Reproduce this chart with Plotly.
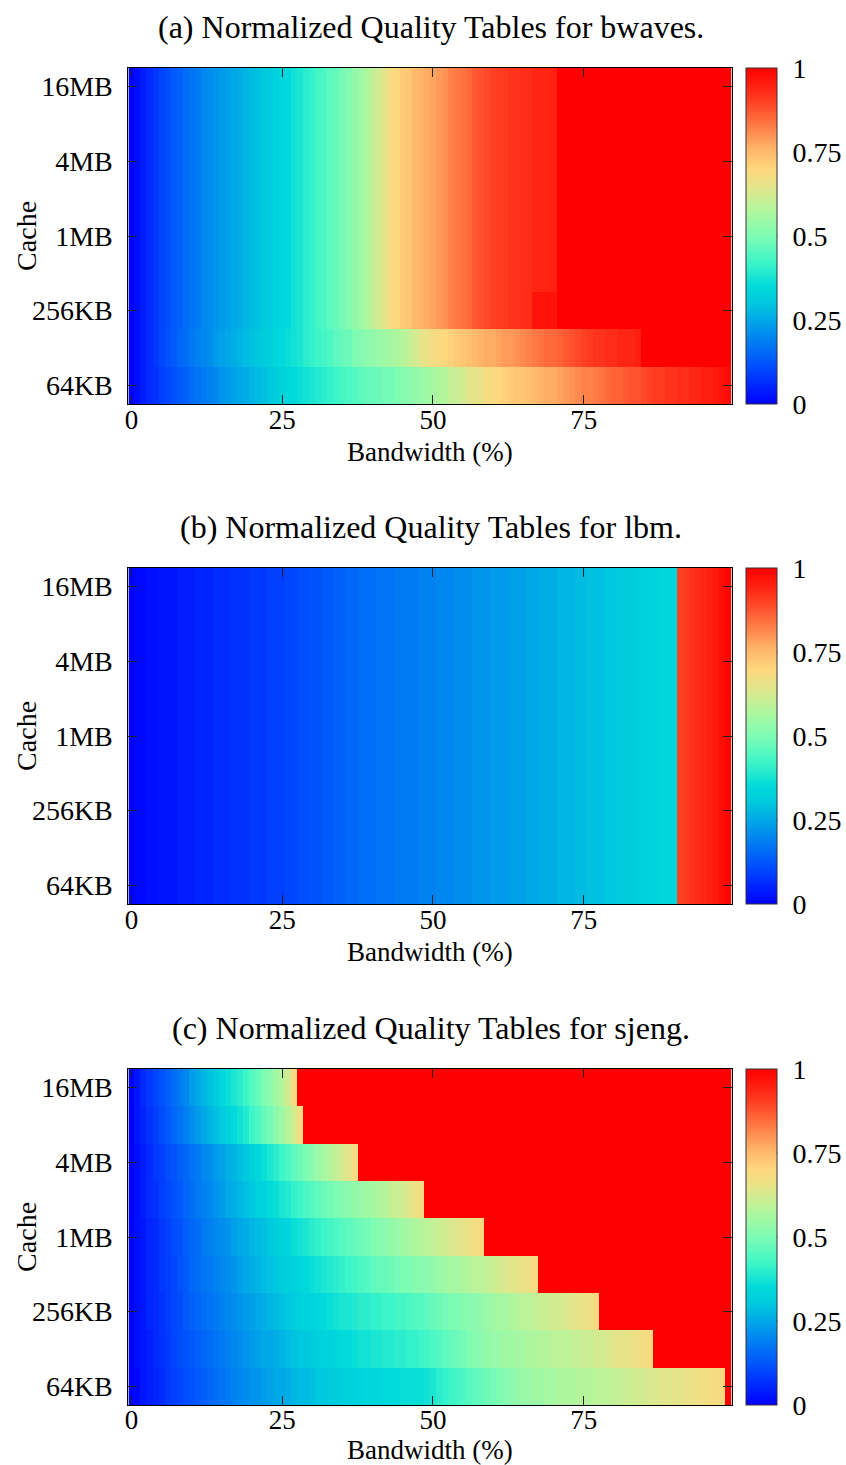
import plotly.graph_objects as go

# ---------------- data ----------------
bandwidth = list(range(100))  # Bandwidth (%) columns 0..99
cache_rows = ['64KB', '128KB', '256KB', '512KB', '1MB', '2MB', '4MB', '8MB', '16MB']
cache_ticks = ['64KB', '256KB', '1MB', '4MB', '16MB']
cbar_vals = [0, 0.25, 0.5, 0.75, 1]
cbar_text = ['0', '0.25', '0.5', '0.75', '1']
titles = ['(a) Normalized Quality Tables for bwaves.',
          '(b) Normalized Quality Tables for lbm.',
          '(c) Normalized Quality Tables for sjeng.']

# bwaves: rows 512KB..16MB share one profile
bwaves_upper = [0.00, 0.02, 0.04, 0.06, 0.08, 0.10, 0.11, 0.13, 0.14, 0.16,
                0.17, 0.18, 0.20, 0.21, 0.22, 0.23, 0.24, 0.25, 0.26, 0.27,
                0.28, 0.29, 0.30, 0.31, 0.33, 0.34, 0.35, 0.37, 0.38, 0.40,
                0.41, 0.43, 0.44, 0.46, 0.47, 0.49, 0.51, 0.53, 0.55, 0.57,
                0.60, 0.62, 0.65, 0.68, 0.70, 0.72, 0.73, 0.75, 0.76, 0.77,
                0.78, 0.79, 0.80, 0.82, 0.83, 0.84, 0.85, 0.87, 0.88, 0.89,
                0.90, 0.91, 0.91, 0.92, 0.92, 0.93, 0.93, 0.94, 0.94, 0.94,
                0.95] + [1.0] * 29
bwaves_256k = [0.00, 0.02, 0.04, 0.06, 0.08, 0.10, 0.11, 0.13, 0.14, 0.16,
               0.17, 0.18, 0.20, 0.21, 0.22, 0.23, 0.24, 0.25, 0.26, 0.27,
               0.28, 0.29, 0.30, 0.31, 0.33, 0.34, 0.35, 0.37, 0.38, 0.40,
               0.41, 0.43, 0.44, 0.46, 0.47, 0.49, 0.51, 0.53, 0.55, 0.57,
               0.60, 0.62, 0.65, 0.68, 0.70, 0.72, 0.73, 0.75, 0.76, 0.77,
               0.78, 0.79, 0.80, 0.82, 0.83, 0.84, 0.85, 0.87, 0.88, 0.89,
               0.90, 0.91, 0.91, 0.92, 0.92, 0.93, 0.93, 0.97, 0.97, 0.97,
               0.97] + [1.0] * 29
bwaves_128k = [0.00, 0.02, 0.04, 0.06, 0.08, 0.10, 0.12, 0.13, 0.15, 0.16,
               0.18, 0.19, 0.20, 0.21, 0.23, 0.24, 0.25, 0.26, 0.27, 0.28,
               0.29, 0.30, 0.31, 0.32, 0.34, 0.35, 0.36, 0.37, 0.38, 0.40,
               0.41, 0.42, 0.43, 0.44, 0.46, 0.47, 0.48, 0.50, 0.51, 0.52,
               0.53, 0.54, 0.55, 0.56, 0.57, 0.58, 0.60, 0.62, 0.64, 0.66,
               0.68, 0.69, 0.70, 0.71, 0.72, 0.73, 0.74, 0.75, 0.76, 0.77,
               0.77, 0.78, 0.79, 0.79, 0.80, 0.81, 0.82, 0.83, 0.84, 0.85,
               0.85, 0.86, 0.87, 0.88, 0.89, 0.90, 0.91, 0.92, 0.92, 0.93,
               0.93, 0.94, 0.94, 0.94, 0.95] + [1.0] * 15
bwaves_64k = [0.00, 0.02, 0.04, 0.06, 0.07, 0.09, 0.10, 0.12, 0.13, 0.14,
              0.16, 0.17, 0.18, 0.19, 0.20, 0.22, 0.23, 0.24, 0.25, 0.26,
              0.27, 0.28, 0.29, 0.30, 0.31, 0.33, 0.34, 0.35, 0.36, 0.37,
              0.38, 0.39, 0.40, 0.41, 0.42, 0.43, 0.44, 0.45, 0.46, 0.47,
              0.47, 0.48, 0.49, 0.49, 0.50, 0.51, 0.52, 0.53, 0.54, 0.55,
              0.56, 0.57, 0.58, 0.60, 0.61, 0.62, 0.64, 0.65, 0.66, 0.68,
              0.69, 0.70, 0.71, 0.72, 0.73, 0.73, 0.74, 0.75, 0.76, 0.77,
              0.77, 0.78, 0.79, 0.80, 0.81, 0.82, 0.82, 0.83, 0.84, 0.85,
              0.86, 0.86, 0.87, 0.88, 0.88, 0.89, 0.90, 0.91, 0.91, 0.92,
              0.92, 0.93, 0.93, 0.94, 0.94, 0.95, 0.95, 0.96, 0.97, 0.98]

# lbm: every cache size has the same profile
lbm_row = [0.00, 0.01, 0.01, 0.02, 0.02, 0.03, 0.03, 0.03, 0.04, 0.04,
           0.04, 0.05, 0.05, 0.05, 0.06, 0.06, 0.06, 0.07, 0.07, 0.07,
           0.08, 0.08, 0.08, 0.09, 0.09, 0.09, 0.10, 0.10, 0.11, 0.11,
           0.12, 0.12, 0.13, 0.13, 0.14, 0.14, 0.15, 0.15, 0.16, 0.16,
           0.16, 0.17, 0.17, 0.17, 0.18, 0.18, 0.18, 0.18, 0.19, 0.19,
           0.19, 0.20, 0.20, 0.20, 0.21, 0.21, 0.21, 0.22, 0.22, 0.22,
           0.23, 0.23, 0.23, 0.24, 0.24, 0.24, 0.25, 0.25, 0.26, 0.26,
           0.26, 0.27, 0.27, 0.27, 0.28, 0.28, 0.29, 0.29, 0.29, 0.30,
           0.30, 0.31, 0.31, 0.31, 0.32, 0.32, 0.33, 0.33, 0.34, 0.34,
           0.34, 0.90, 0.91, 0.92, 0.93, 0.94, 0.95, 0.96, 0.98, 0.99]

# sjeng: one profile per cache size (gradient part, then saturated)
sjeng_16m = [0.00, 0.03, 0.06, 0.08, 0.10, 0.12, 0.14, 0.16, 0.18, 0.20,
             0.23, 0.25, 0.27, 0.29, 0.31, 0.34, 0.36, 0.38, 0.40, 0.42,
             0.45, 0.47, 0.50, 0.52, 0.55, 0.58, 0.62, 0.68] + [1.0] * 72
sjeng_8m = [0.00, 0.03, 0.05, 0.07, 0.09, 0.11, 0.13, 0.15, 0.17, 0.19,
            0.21, 0.23, 0.25, 0.27, 0.29, 0.31, 0.33, 0.35, 0.37, 0.39,
            0.42, 0.44, 0.47, 0.49, 0.52, 0.55, 0.58, 0.62, 0.68] + [1.0] * 71
sjeng_4m = [0.00, 0.02, 0.04, 0.06, 0.08, 0.09, 0.11, 0.12, 0.14, 0.15,
            0.17, 0.18, 0.20, 0.21, 0.23, 0.24, 0.26, 0.27, 0.29, 0.30,
            0.32, 0.34, 0.36, 0.38, 0.40, 0.42, 0.44, 0.46, 0.48, 0.50,
            0.52, 0.54, 0.56, 0.58, 0.60, 0.62, 0.65, 0.68] + [1.0] * 62
sjeng_2m = [0.00, 0.02, 0.04, 0.06, 0.07, 0.09, 0.10, 0.12, 0.13, 0.15,
            0.16, 0.18, 0.19, 0.20, 0.22, 0.23, 0.25, 0.26, 0.27, 0.29,
            0.30, 0.32, 0.33, 0.35, 0.36, 0.38, 0.39, 0.41, 0.42, 0.44,
            0.45, 0.46, 0.48, 0.49, 0.50, 0.51, 0.52, 0.53, 0.54, 0.55,
            0.56, 0.57, 0.58, 0.60, 0.61, 0.62, 0.64, 0.66, 0.68] + [1.0] * 51
sjeng_1m = [0.00, 0.02, 0.03, 0.05, 0.06, 0.08, 0.09, 0.11, 0.12, 0.14,
            0.15, 0.16, 0.18, 0.19, 0.20, 0.21, 0.22, 0.24, 0.25, 0.26,
            0.27, 0.28, 0.29, 0.30, 0.32, 0.33, 0.34, 0.36, 0.37, 0.38,
            0.40, 0.41, 0.42, 0.43, 0.44, 0.45, 0.46, 0.47, 0.48, 0.49,
            0.50, 0.51, 0.52, 0.53, 0.54, 0.55, 0.56, 0.57, 0.58, 0.59,
            0.60, 0.61, 0.62, 0.63, 0.64, 0.65, 0.66, 0.67, 0.69] + [1.0] * 41
sjeng_512k = [0.00, 0.02, 0.03, 0.05, 0.06, 0.08, 0.09, 0.10, 0.12, 0.13,
              0.15, 0.16, 0.17, 0.18, 0.19, 0.20, 0.21, 0.22, 0.24, 0.25,
              0.26, 0.27, 0.28, 0.29, 0.30, 0.31, 0.32, 0.33, 0.34, 0.35,
              0.36, 0.37, 0.38, 0.39, 0.40, 0.41, 0.42, 0.43, 0.44, 0.45,
              0.46, 0.47, 0.47, 0.48, 0.49, 0.50, 0.50, 0.51, 0.52, 0.52,
              0.53, 0.54, 0.55, 0.56, 0.56, 0.57, 0.58, 0.59, 0.59, 0.60,
              0.61, 0.62, 0.63, 0.64, 0.65, 0.66, 0.67, 0.69] + [1.0] * 32
sjeng_256k = [0.00, 0.02, 0.03, 0.05, 0.06, 0.07, 0.09, 0.10, 0.11, 0.13,
              0.14, 0.15, 0.16, 0.17, 0.18, 0.19, 0.20, 0.21, 0.22, 0.23,
              0.24, 0.25, 0.26, 0.27, 0.28, 0.29, 0.30, 0.31, 0.32, 0.33,
              0.33, 0.34, 0.35, 0.36, 0.37, 0.38, 0.38, 0.39, 0.40, 0.40,
              0.41, 0.41, 0.42, 0.42, 0.43, 0.43, 0.44, 0.45, 0.45, 0.46,
              0.47, 0.48, 0.49, 0.50, 0.50, 0.51, 0.52, 0.52, 0.53, 0.54,
              0.55, 0.56, 0.56, 0.57, 0.58, 0.59, 0.59, 0.60, 0.61, 0.61,
              0.62, 0.62, 0.63, 0.64, 0.65, 0.66, 0.67, 0.69] + [1.0] * 22
sjeng_128k = [0.00, 0.02, 0.03, 0.04, 0.06, 0.07, 0.08, 0.10, 0.11, 0.12,
              0.13, 0.14, 0.15, 0.16, 0.17, 0.18, 0.19, 0.20, 0.21, 0.22,
              0.23, 0.24, 0.25, 0.25, 0.26, 0.27, 0.28, 0.29, 0.30, 0.30,
              0.31, 0.32, 0.33, 0.33, 0.34, 0.35, 0.35, 0.36, 0.37, 0.37,
              0.38, 0.38, 0.39, 0.39, 0.40, 0.40, 0.41, 0.41, 0.42, 0.43,
              0.44, 0.45, 0.46, 0.47, 0.48, 0.49, 0.50, 0.51, 0.52, 0.53,
              0.54, 0.54, 0.55, 0.55, 0.56, 0.56, 0.57, 0.57, 0.58, 0.58,
              0.59, 0.59, 0.59, 0.60, 0.60, 0.61, 0.61, 0.62, 0.62, 0.63,
              0.64, 0.65, 0.65, 0.66, 0.67, 0.68, 0.69] + [1.0] * 13
sjeng_64k = [0.00, 0.01, 0.03, 0.04, 0.05, 0.06, 0.08, 0.09, 0.10, 0.11,
             0.12, 0.13, 0.14, 0.15, 0.16, 0.17, 0.18, 0.19, 0.20, 0.21,
             0.22, 0.22, 0.23, 0.24, 0.25, 0.25, 0.26, 0.27, 0.28, 0.28,
             0.29, 0.30, 0.30, 0.31, 0.31, 0.32, 0.32, 0.33, 0.33, 0.34,
             0.34, 0.34, 0.35, 0.35, 0.35, 0.36, 0.36, 0.36, 0.36, 0.37,
             0.38, 0.40, 0.41, 0.42, 0.43, 0.44, 0.45, 0.46, 0.47, 0.48,
             0.49, 0.50, 0.51, 0.52, 0.53, 0.54, 0.54, 0.55, 0.55, 0.56,
             0.56, 0.57, 0.57, 0.57, 0.58, 0.58, 0.58, 0.59, 0.59, 0.59,
             0.60, 0.60, 0.61, 0.61, 0.62, 0.62, 0.63, 0.63, 0.64, 0.64,
             0.65, 0.65, 0.66, 0.66, 0.67, 0.67, 0.68, 0.68, 0.69, 1.0]

# rows ordered bottom (64KB) to top (16MB)
z_bwaves = [bwaves_64k, bwaves_128k, bwaves_256k] + [bwaves_upper] * 6
z_lbm = [lbm_row] * 9
z_sjeng = [sjeng_64k, sjeng_128k, sjeng_256k, sjeng_512k, sjeng_1m,
           sjeng_2m, sjeng_4m, sjeng_8m, sjeng_16m]
panels = [z_bwaves, z_lbm, z_sjeng]

# ---------------- style ----------------
W, H = 846, 1465
FONT = 'Liberation Serif'
FS = 28      # y tick labels, colorbar labels, Cache title
XFS = 27     # x tick labels and Bandwidth title
TFS = 32     # panel titles
colorscale = [
    [0.00, 'rgb(0,0,255)'],
    [0.10, 'rgb(0,70,255)'],
    [0.20, 'rgb(0,135,240)'],
    [0.30, 'rgb(0,200,222)'],
    [0.35, 'rgb(0,218,218)'],
    [0.42, 'rgb(60,245,200)'],
    [0.50, 'rgb(125,252,180)'],
    [0.58, 'rgb(180,245,155)'],
    [0.64, 'rgb(225,230,140)'],
    [0.70, 'rgb(255,215,125)'],
    [0.76, 'rgb(255,180,105)'],
    [0.82, 'rgb(255,130,75)'],
    [0.90, 'rgb(255,65,35)'],
    [0.95, 'rgb(255,30,15)'],
    [1.00, 'rgb(255,0,0)'],
]

plot_left, plot_right = 125, 731
cb_left, cb_thick = 746, 31
plot_tops = [68, 568, 1069]
plot_h = 336
title_offset = 41             # title centre above plot top (px)
xtitle_offsets = [48, 48, 44.5]  # x-axis title centre below plot bottom (px)

def py(p):
    return 1 - p / H

fig = go.Figure()
shapes = []
for i, z in enumerate(panels):
    top = plot_tops[i]
    bot = top + plot_h
    y0, y1 = py(bot), py(top)
    n = '' if i == 0 else str(i + 1)
    fig.add_trace(go.Heatmap(
        z=z, x=bandwidth, y=cache_rows,
        xaxis='x' + n, yaxis='y' + n,
        colorscale=colorscale, zmin=0, zmax=1, zsmooth=False,
        colorbar=dict(
            x=cb_left / W, xanchor='left', xpad=0,
            y=y0, yanchor='bottom', ypad=0,
            len=plot_h / H, lenmode='fraction',
            thickness=cb_thick, thicknessmode='pixels',
            outlinewidth=1, outlinecolor='#333',
            tickmode='array', tickvals=cbar_vals, ticktext=cbar_text,
            ticks='outside', ticklen=10, tickcolor='rgba(0,0,0,0)',
            tickfont=dict(family=FONT, size=FS, color='black'),
        ),
        hoverinfo='skip',
    ))
    fig.update_layout(**{
        'xaxis' + n: dict(
            domain=[plot_left / W, plot_right / W], anchor='y' + n,
            range=[-0.5, 99.5], tickmode='array', tickvals=[0, 25, 50, 75],
            ticks='inside', ticklen=9, tickcolor='#222', tickwidth=1,
            showline=True, linecolor='black', linewidth=1, mirror='ticks',
            showgrid=False, zeroline=False,
            tickfont=dict(family=FONT, size=XFS, color='black'),
            ticklabelstandoff=-8 if i < 2 else -9,
        ),
        'yaxis' + n: dict(
            domain=[y0, y1], anchor='x' + n,
            type='category', range=[-0.5, 8.5],
            tickmode='array', tickvals=cache_ticks, ticktext=cache_ticks,
            ticks='inside', ticklen=9, tickcolor='#222', tickwidth=1,
            showline=True, linecolor='black', linewidth=1, mirror='ticks',
            showgrid=False, zeroline=False,
            tickfont=dict(family=FONT, size=FS, color='black'),
            ticklabelstandoff=9,
        ),
    })
    # panel title
    fig.add_annotation(text=titles[i], xref='paper', yref='paper',
                       x=429 / W, y=py(top - title_offset),
                       xanchor='center', yanchor='middle', showarrow=False,
                       font=dict(family=FONT, size=TFS, color='black'))
    # axis titles
    fig.add_annotation(text='Bandwidth (%)', xref='paper', yref='paper',
                       x=428 / W, y=py(bot + xtitle_offsets[i]),
                       xanchor='center', yanchor='middle', showarrow=False,
                       font=dict(family=FONT, size=XFS, color='black'))
    fig.add_annotation(text='Cache', xref='paper', yref='paper',
                       x=22 / W, y=py((top + bot) / 2), textangle=-90,
                       xanchor='center', yanchor='middle', showarrow=False,
                       font=dict(family=FONT, size=FS, color='black'))
    # colorbar inner tick marks on both edges
    for v in cbar_vals[1:-1]:
        yy = py(bot - v * plot_h)
        shapes.append(dict(type='line', xref='paper', yref='paper',
                           x0=cb_left / W, x1=(cb_left + 7) / W, y0=yy, y1=yy,
                           line=dict(color='#333', width=1.5)))
        shapes.append(dict(type='line', xref='paper', yref='paper',
                           x0=(cb_left + cb_thick - 7) / W, x1=(cb_left + cb_thick) / W,
                           y0=yy, y1=yy, line=dict(color='#333', width=1.5)))

fig.update_layout(
    width=W, height=H,
    margin=dict(l=0, r=0, t=0, b=0),
    paper_bgcolor='white', plot_bgcolor='white',
    showlegend=False,
    shapes=shapes,
    font=dict(family=FONT, size=FS, color='black'),
)

fig.write_html('out.html',
               config={'displayModeBar': False},
               post_script="document.body.style.margin='0px';document.body.style.overflow='hidden';")
